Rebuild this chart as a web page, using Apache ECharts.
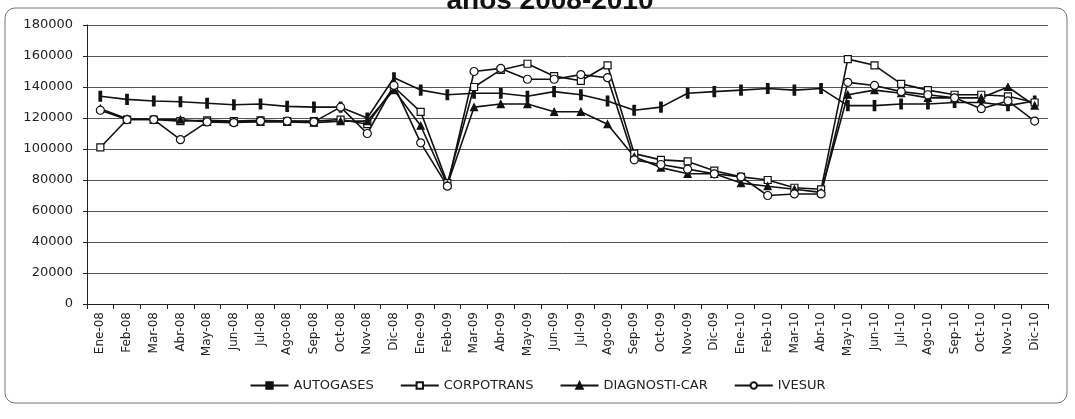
<!DOCTYPE html>
<html>
<head>
<meta charset="utf-8">
<script src="https://cdn.jsdelivr.net/npm/echarts@6/dist/echarts.min.js"></script>
<style>
    html, body {margin: 0; padding: 0; background: #fff;}
    #container {width: 1075px; height: 419px;}
</style>
</head>
<body>
<div id="container"></div>
<script>
// meses Ene-08 .. Dic-10
var meses = ["Ene-08", "Feb-08", "Mar-08", "Abr-08", "May-08", "Jun-08", "Jul-08", "Ago-08", "Sep-08", "Oct-08", "Nov-08", "Dic-08",
    "Ene-09", "Feb-09", "Mar-09", "Abr-09", "May-09", "Jun-09", "Jul-09", "Ago-09", "Sep-09", "Oct-09", "Nov-09", "Dic-09",
    "Ene-10", "Feb-10", "Mar-10", "Abr-10", "May-10", "Jun-10", "Jul-10", "Ago-10", "Sep-10", "Oct-10", "Nov-10", "Dic-10"];

var autogases = [134000, 132000, 131000, 130500, 129500, 128500, 129000, 127500, 127000, 127000, 120000, 146000,
    138000, 135000, 136000, 136000, 134000, 137000, 135000, 131000, 125000, 127000, 136000, 137000,
    138000, 139000, 138000, 139000, 128000, 128000, 129000, 129000, 130000, 130000, 128000, 131000];
var corpotrans = [101000, 119000, 119000, 118000, 118500, 118000, 118500, 118000, 118000, 119000, 116000, 140000,
    124000, 78000, 140000, 151000, 155000, 147000, 144000, 154000, 97000, 93000, 92000, 86000,
    82000, 80000, 75000, 74000, 158000, 154000, 142000, 138000, 135000, 135000, 134000, 130000];
var diagnosticar = [126000, 119500, 119000, 119000, 117500, 117500, 117500, 117500, 117000, 118000, 118000, 138000,
    115000, 77000, 127000, 129000, 129000, 124000, 124000, 116000, 95000, 88000, 84000, 84000,
    78000, 76000, 74000, 72000, 135000, 138000, 136000, 133000, 133000, 133000, 140000, 128000];
var ivesur = [125000, 119000, 119000, 106000, 117500, 117000, 118000, 118000, 117500, 127000, 110000, 141000,
    104000, 76000, 150000, 152000, 145000, 145000, 148000, 146000, 93000, 90000, 87000, 84000,
    82000, 70000, 71000, 71000, 143000, 141000, 137000, 135000, 133000, 126000, 131000, 118000];

var yTicks = [0, 20000, 40000, 60000, 80000, 100000, 120000, 140000, 160000, 180000];

buildChart();

function serie(name, data, symbol, size, fill) {
    return {
        name: name,
        type: 'line',
        data: data,
        symbol: symbol,
        symbolSize: size,
        showAllSymbol: true,
        lineStyle: {color: '#111', width: 1.6},
        itemStyle: {color: fill, borderColor: '#111', borderWidth: 1.2}
    }
}

function buildChart() {
    var dom = document.getElementById("container");
    var myChart = echarts.init(dom);
    var option = {
        backgroundColor: '#fff',
        animation: false,
        textStyle: {fontFamily: 'DejaVu Sans'},
        graphic: [{
            type: 'rect',
            shape: {x: 5, y: 8, width: 1062, height: 395, r: 10},
            style: {fill: 'none', stroke: '#777', lineWidth: 1}
        }, {
            // titulo cortado arriba en el escaneo
            type: 'text',
            x: 550,
            y: 15,
            style: {
                text: 'años 2008-2010',
                align: 'center',
                verticalAlign: 'bottom',
                font: 'bold 28px "Liberation Sans"',
                fill: '#111'
            }
        }],
        legend: {
            bottom: 22,
            left: 'center',
            itemWidth: 38,
            itemHeight: 8,
            itemGap: 26,
            textStyle: {fontFamily: 'DejaVu Sans', fontSize: 13, color: '#222'},
            data: ['AUTOGASES', 'CORPOTRANS', 'DIAGNOSTI-CAR', 'IVESUR']
        },
        grid: {left: 87, right: 27, top: 25, bottom: 115},
        xAxis: {
            type: 'category',
            data: meses,
            boundaryGap: true,
            axisLine: {lineStyle: {color: '#222', width: 1}},
            axisTick: {show: true, length: 5, lineStyle: {color: '#222'}},
            axisLabel: {rotate: 90, margin: 8, fontSize: 12, color: '#222', interval: 0}
        },
        yAxis: {
            type: 'value',
            min: yTicks[0],
            max: yTicks[yTicks.length - 1],
            interval: yTicks[1] - yTicks[0],
            axisLine: {show: true, lineStyle: {color: '#222', width: 1}},
            axisTick: {show: true, length: 4, lineStyle: {color: '#222'}},
            axisLabel: {
                margin: 14, fontSize: 13, color: '#222',
                formatter: function (v) {
                    return String(v)
                }
            },
            splitLine: {lineStyle: {color: '#555', width: 1}}
        },
        series: [
            serie('AUTOGASES', autogases, 'rect', [3, 9], '#111'),
            serie('CORPOTRANS', corpotrans, 'rect', 7, '#fff'),
            serie('DIAGNOSTI-CAR', diagnosticar, 'triangle', 7, '#111'),
            serie('IVESUR', ivesur, 'circle', 8, '#fff')
        ]
    };
    if (option && typeof option === "object") {
        myChart.setOption(option, true);
    }
}
</script>
</body>
</html>
